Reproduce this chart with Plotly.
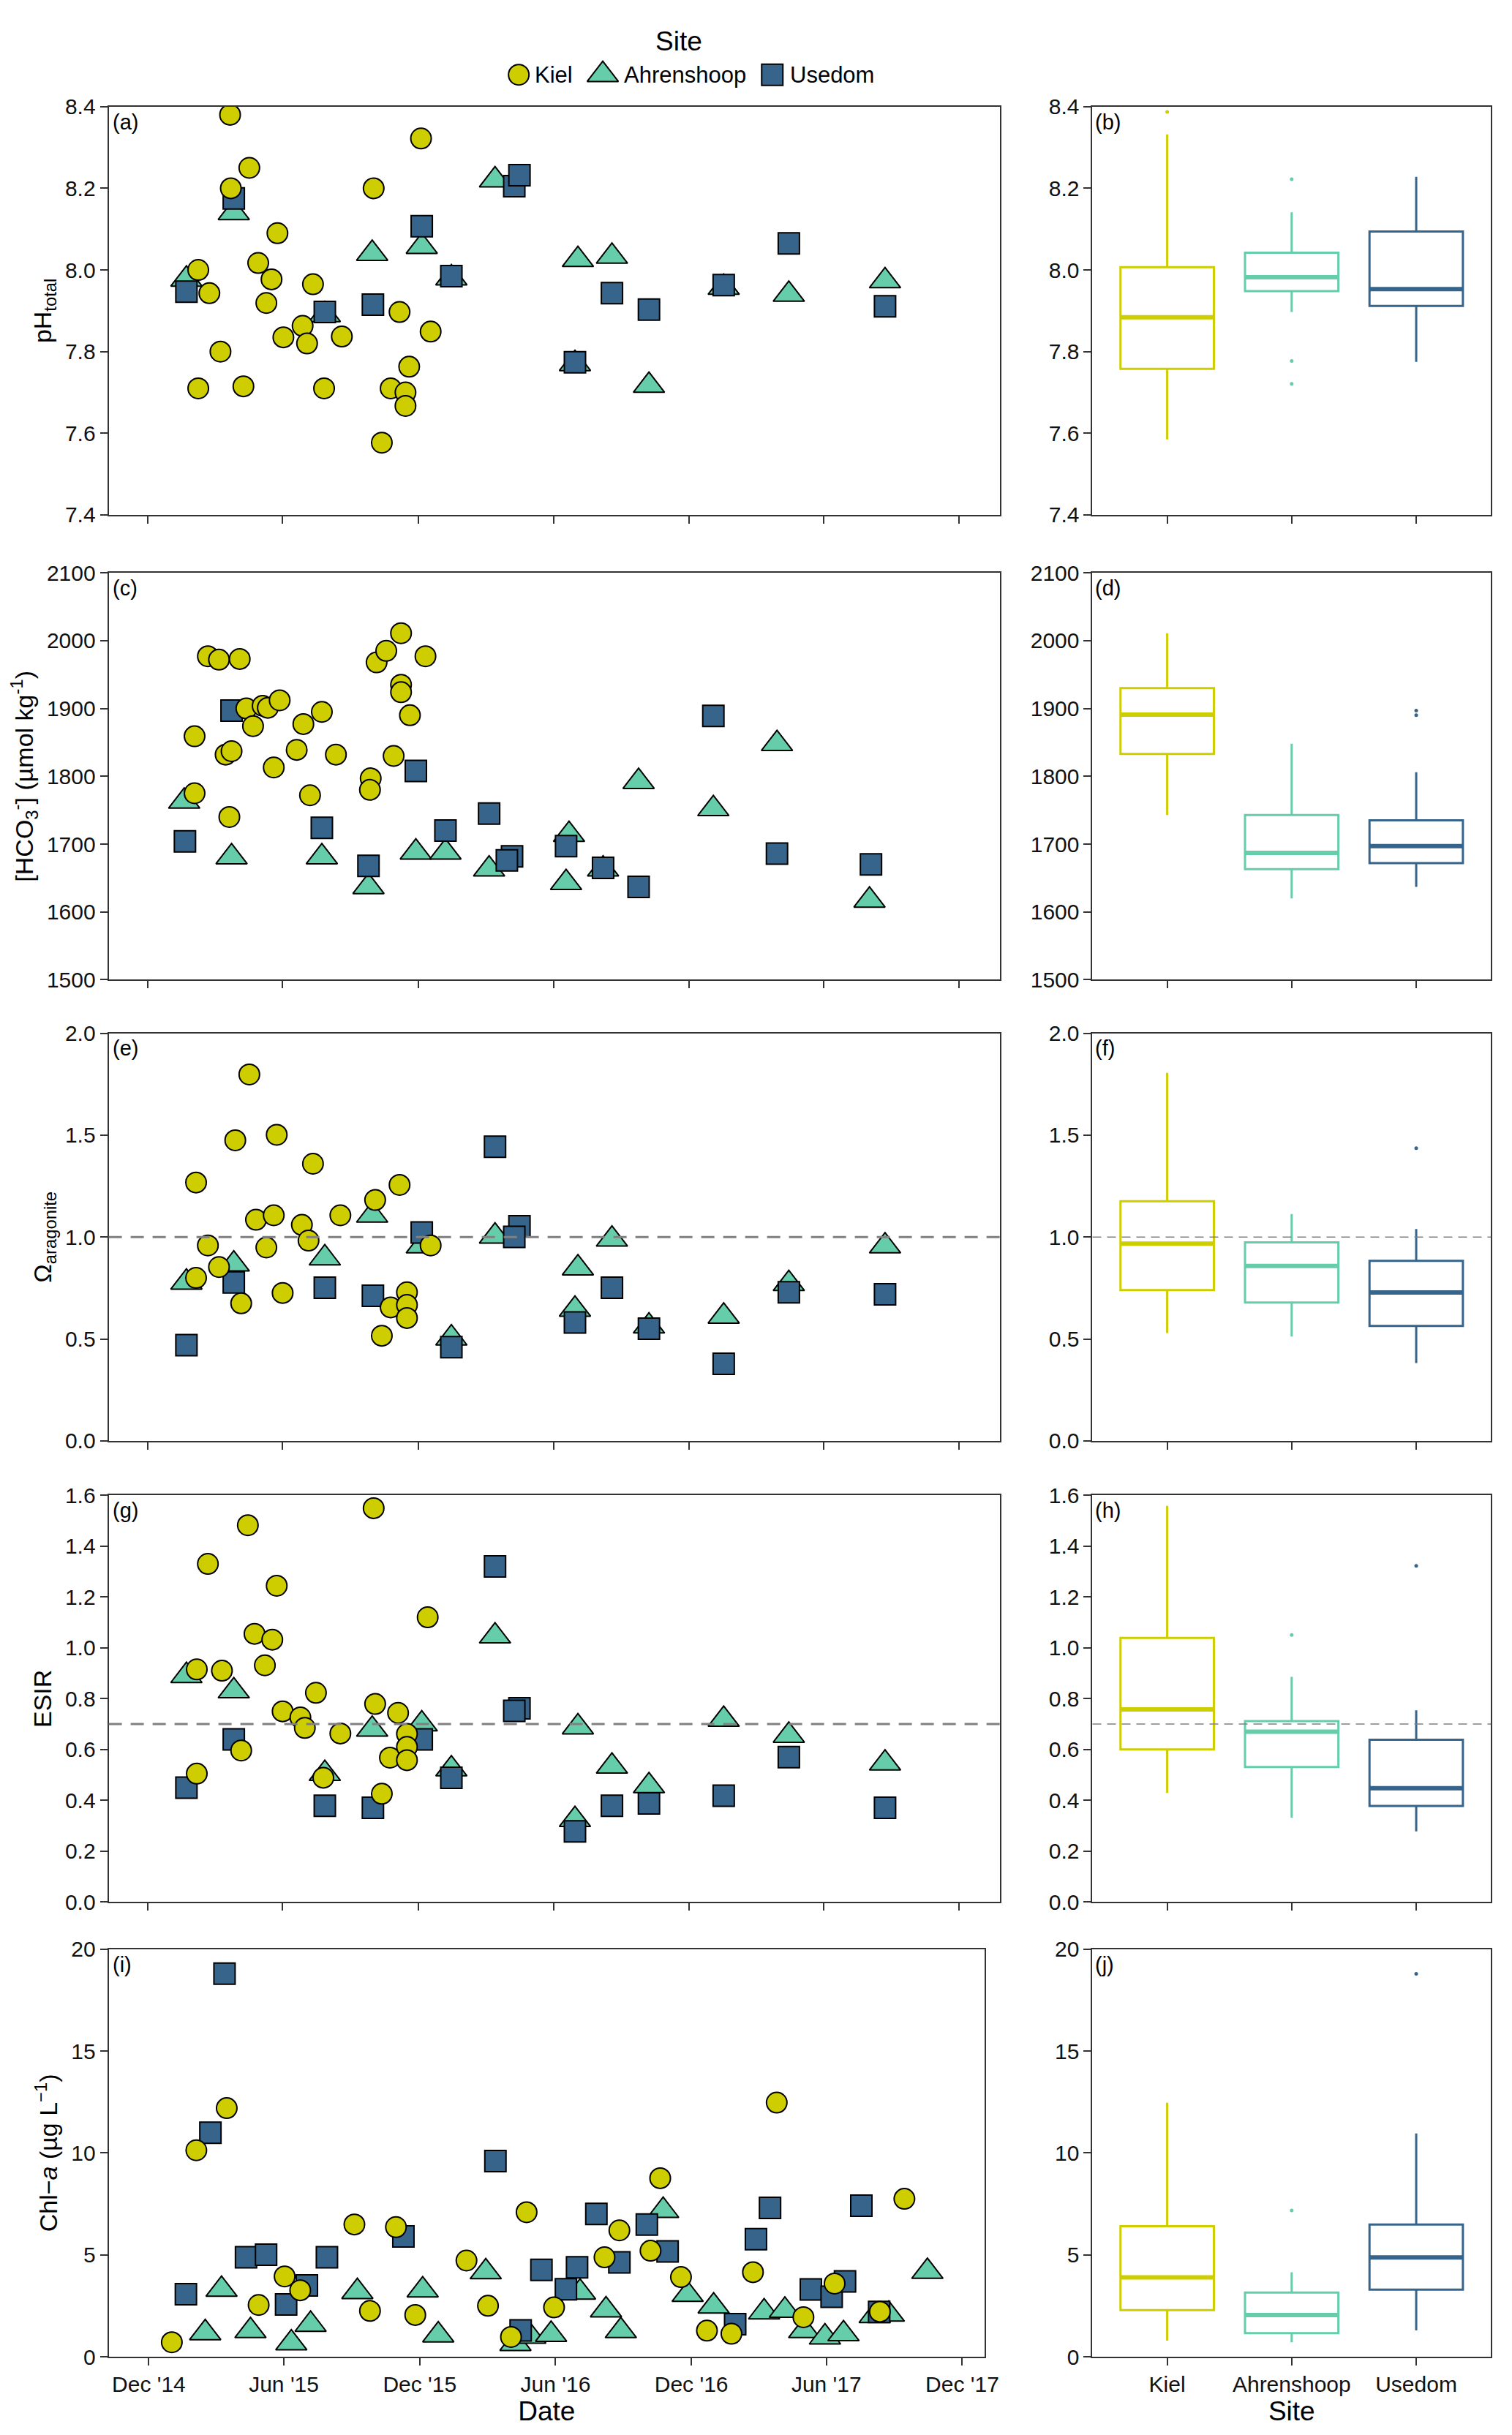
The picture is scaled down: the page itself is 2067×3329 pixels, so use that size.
import plotly.graph_objects as go
from plotly.subplots import make_subplots

SITES = ["Kiel", "Ahrenshoop", "Usedom"]
COLORS = {"Kiel": "#CDCD00", "Ahrenshoop": "#66CDAA", "Usedom": "#36648B"}
SYMBOLS = {"Kiel": "circle", "Ahrenshoop": "triangle-up", "Usedom": "square"}
SIZES = {"Kiel": 28, "Ahrenshoop": 37, "Usedom": 29}
DRAW_ORDER = ["Ahrenshoop", "Usedom", "Kiel"]

# ---- sampling dates shared by several panels ----
AHR_DATES = ["2015-01-22", "2015-03-27", "2015-07-28", "2015-09-30", "2015-12-06",
             "2016-01-15", "2016-03-14", "2016-06-30", "2016-07-04", "2016-08-19",
             "2016-10-08", "2017-01-17", "2017-04-15", "2017-08-23"]
USE_DATES_PH = ["2015-01-22", "2015-03-27", "2015-07-28", "2015-10-01", "2015-12-06",
                "2016-01-15", "2016-04-09", "2016-04-16", "2016-06-30", "2016-08-19",
                "2016-10-08", "2017-01-17", "2017-04-15", "2017-08-23"]
USE_DATES = ["2015-01-22", "2015-03-27", "2015-07-28", "2015-10-01", "2015-12-06",
             "2016-01-15", "2016-03-14", "2016-04-16", "2016-04-09", "2016-06-30",
             "2016-08-19", "2016-10-08", "2017-01-17", "2017-04-15", "2017-08-23"]

# ---- (a) pH total ----
PH_KIEL_DATES = ["2015-02-07", "2015-02-07", "2015-02-22", "2015-03-09", "2015-03-22",
                 "2015-03-23", "2015-04-09", "2015-04-17", "2015-04-29", "2015-05-10",
                 "2015-05-17", "2015-05-25", "2015-06-02", "2015-06-28", "2015-07-04",
                 "2015-07-12", "2015-07-27", "2015-08-20", "2015-10-02", "2015-10-13",
                 "2015-10-25", "2015-11-06", "2015-11-14", "2015-11-14", "2015-11-19",
                 "2015-12-05", "2015-12-18"]
PH_KIEL = [7.71, 8.00, 7.943, 7.80, 8.38, 8.20, 7.715, 8.25, 8.017, 7.919, 7.977, 8.09,
           7.835, 7.863, 7.82, 7.965, 7.71, 7.837, 8.20, 7.577, 7.71, 7.897, 7.70, 7.667,
           7.763, 8.322, 7.849]
PH_AHR = [7.977, 8.14, 7.89, 8.04, 8.057, 7.98, 8.22, 7.77, 8.025, 8.033, 7.717, 7.957,
          7.94, 7.973]
PH_USE = [7.947, 8.175, 7.897, 7.915, 8.107, 7.985, 8.205, 8.232, 7.774, 7.943, 7.903,
          7.963, 8.065, 7.911]

# ---- (c) bicarbonate ----
HCO3_KIEL_DATES = ["2015-02-02", "2015-02-02", "2015-02-20", "2015-03-07", "2015-03-16",
                   "2015-03-24", "2015-03-21", "2015-04-04", "2015-04-13", "2015-04-22",
                   "2015-05-05", "2015-05-12", "2015-05-20", "2015-05-28", "2015-06-20",
                   "2015-06-29", "2015-07-08", "2015-07-24", "2015-08-12", "2015-09-28",
                   "2015-09-27", "2015-10-06", "2015-10-19", "2015-10-29", "2015-11-08",
                   "2015-11-08", "2015-11-08", "2015-11-20", "2015-12-11"]
HCO3_KIEL = [1859, 1775, 1977, 1972, 1832, 1837, 1740, 1973, 1900, 1874, 1904, 1901, 1813,
             1912, 1839, 1877, 1772, 1895, 1832, 1797, 1780, 1968, 1985, 1830, 2011, 1935,
             1924, 1890, 1977]
HCO3_AHR_DATES = ["2015-01-19", "2015-03-24", "2015-07-24", "2015-09-25", "2015-11-28",
                  "2016-01-07", "2016-03-06", "2016-06-22", "2016-06-18", "2016-08-07",
                  "2016-09-24", "2017-01-03", "2017-03-30", "2017-08-02"]
HCO3_AHR = [1763, 1681, 1681, 1637, 1688, 1688, 1663, 1714, 1643, 1663, 1792, 1752, 1848, 1617]
HCO3_USE_DATES = ["2015-01-20", "2015-03-24", "2015-07-24", "2015-09-25", "2015-11-28",
                  "2016-01-07", "2016-03-06", "2016-04-06", "2016-03-30", "2016-06-18",
                  "2016-08-07", "2016-09-24", "2017-01-03", "2017-03-30", "2017-08-04"]
HCO3_USE = [1704, 1897, 1724, 1668, 1808, 1720, 1745, 1682, 1676, 1697, 1665, 1637, 1889,
            1686, 1670]

# ---- (e) omega aragonite ----
OMEGA_KIEL_DATES = ["2015-02-04", "2015-02-04", "2015-02-20", "2015-03-07", "2015-03-29",
                    "2015-04-06", "2015-04-17", "2015-04-26", "2015-05-10", "2015-05-20",
                    "2015-05-24", "2015-06-01", "2015-06-27", "2015-07-06", "2015-07-12",
                    "2015-08-18", "2015-10-04", "2015-10-13", "2015-10-25", "2015-11-06",
                    "2015-11-16", "2015-11-16", "2015-11-16", "2015-12-18"]
OMEGA_KIEL = [1.268, 0.80, 0.959, 0.853, 1.475, 0.675, 1.798, 1.085, 0.949, 1.107, 1.502,
              0.726, 1.06, 0.983, 1.36, 1.107, 1.182, 0.516, 0.655, 1.256, 0.729, 0.667,
              0.603, 0.959]
OMEGA_AHR = [0.778, 0.867, 0.897, 1.107, 0.956, 0.504, 1.004, 0.645, 0.848, 0.989, 0.563,
             0.611, 0.771, 0.956]
OMEGA_USE = [0.47, 0.778, 0.752, 0.712, 1.023, 0.46, 1.443, 1.053, 1.001, 0.581, 0.752,
             0.551, 0.378, 0.729, 0.719]

# ---- (g) ESIR ----
ESIR_KIEL_DATES = ["2015-02-05", "2015-02-05", "2015-02-20", "2015-03-11", "2015-04-06",
                   "2015-04-15", "2015-04-24", "2015-05-08", "2015-05-18", "2015-05-24",
                   "2015-06-01", "2015-06-25", "2015-07-01", "2015-07-16", "2015-07-26",
                   "2015-08-18", "2015-10-02", "2015-10-04", "2015-10-13", "2015-10-24",
                   "2015-11-04", "2015-11-16", "2015-11-16", "2015-11-16", "2015-12-14"]
ESIR_KIEL = [0.915, 0.505, 1.33, 0.91, 0.596, 1.482, 1.055, 0.931, 1.032, 1.244, 0.75,
             0.726, 0.685, 0.823, 0.489, 0.663, 1.549, 0.779, 0.426, 0.568, 0.744, 0.661,
             0.61, 0.558, 1.12]
ESIR_AHR = [0.89, 0.83, 0.505, 0.679, 0.70, 0.523, 1.046, 0.324, 0.688, 0.534, 0.457,
            0.718, 0.655, 0.546]
ESIR_USE = [0.45, 0.64, 0.379, 0.371, 0.64, 0.489, 1.32, 0.762, 0.752, 0.278, 0.379, 0.388,
            0.418, 0.57, 0.371]

# ---- (i) chlorophyll a ----
CHL_KIEL_DATES = ["2015-01-01", "2015-02-03", "2015-03-16", "2015-04-28", "2015-06-02",
                  "2015-06-23", "2015-09-04", "2015-09-25", "2015-10-30", "2015-11-25",
                  "2016-02-02", "2016-03-02", "2016-04-02", "2016-04-23", "2016-05-30",
                  "2016-08-06", "2016-08-26", "2016-10-07", "2016-10-20", "2016-11-17",
                  "2016-12-22", "2017-01-24", "2017-02-22", "2017-03-26", "2017-05-01",
                  "2017-06-12", "2017-08-12", "2017-09-14"]
CHL_KIEL = [0.71, 10.13, 12.2, 2.54, 3.94, 3.26, 6.49, 2.25, 6.36, 2.05, 4.72, 2.5, 0.97,
            7.09, 2.42, 4.88, 6.2, 5.2, 8.76, 3.91, 1.28, 1.13, 4.15, 12.47, 1.94, 3.59,
            2.21, 7.75]
CHL_AHR_DATES = ["2015-02-15", "2015-03-09", "2015-04-17", "2015-06-11", "2015-07-07",
                 "2015-09-08", "2015-12-05", "2015-12-26", "2016-02-28", "2016-04-08",
                 "2016-04-28", "2016-05-26", "2016-07-04", "2016-08-08", "2016-08-28",
                 "2016-10-24", "2016-11-26", "2016-12-31", "2017-03-09", "2017-04-06",
                 "2017-05-02", "2017-05-30", "2017-06-24", "2017-08-05", "2017-08-24",
                 "2017-10-15"]
CHL_AHR = [1.17, 3.3, 1.27, 0.67, 1.58, 3.19, 3.27, 1.06, 4.16, 0.64, 1.0, 1.09, 3.16, 2.29,
           1.27, 7.17, 3.05, 2.48, 2.19, 2.27, 1.27, 0.96, 1.12, 2.01, 2.08, 4.18]
CHL_USE_DATES = ["2015-01-20", "2015-02-22", "2015-03-13", "2015-04-11", "2015-05-08",
                 "2015-06-04", "2015-07-02", "2015-07-29", "2015-11-09", "2016-03-12",
                 "2016-04-15", "2016-05-13", "2016-06-15", "2016-06-30", "2016-07-26",
                 "2016-08-26", "2016-10-02", "2016-10-30", "2017-01-29", "2017-02-26",
                 "2017-03-17", "2017-05-11", "2017-06-08", "2017-06-26", "2017-07-18",
                 "2017-08-11"]
CHL_USE = [3.07, 10.99, 18.8, 4.88, 5.01, 2.57, 3.5, 4.88, 5.9, 9.6, 1.29, 4.26, 3.31, 4.39,
           7.01, 4.63, 6.49, 5.17, 1.6, 5.77, 7.3, 3.3, 2.94, 3.7, 7.41, 2.2]

# ---- box plot statistics (Kiel, Ahrenshoop, Usedom) ----
PH_BOX = dict(low=[7.585, 7.897, 7.775], q1=[7.758, 7.948, 7.912], med=[7.884, 7.982, 7.953],
              q3=[8.007, 8.042, 8.094], up=[8.332, 8.141, 8.228])
PH_OUT_SITE = ["Kiel", "Ahrenshoop", "Ahrenshoop", "Ahrenshoop"]
PH_OUT = [8.387, 8.222, 7.777, 7.721]

HCO3_BOX = dict(low=[1743, 1620, 1637], q1=[1833, 1663, 1672], med=[1891, 1687, 1697],
                q3=[1930, 1743, 1735], up=[2011, 1848, 1806])
HCO3_OUT_SITE = ["Usedom", "Usedom"]
HCO3_OUT = [1897, 1890]

OMEGA_BOX = dict(low=[0.529, 0.512, 0.382], q1=[0.740, 0.679, 0.564], med=[0.968, 0.858, 0.728],
                 q3=[1.176, 0.974, 0.884], up=[1.806, 1.113, 1.040])
OMEGA_OUT_SITE = ["Usedom"]
OMEGA_OUT = [1.436]

ESIR_BOX = dict(low=[0.429, 0.332, 0.278], q1=[0.600, 0.531, 0.378], med=[0.758, 0.670, 0.448],
                q3=[1.039, 0.712, 0.638], up=[1.558, 0.886, 0.754])
ESIR_OUT_SITE = ["Ahrenshoop", "Usedom"]
ESIR_OUT = [1.050, 1.322]

CHL_BOX = dict(low=[0.79, 0.71, 1.29], q1=[2.29, 1.16, 3.29], med=[3.89, 2.05, 4.87],
               q3=[6.41, 3.15, 6.49], up=[12.46, 4.15, 10.96])
CHL_OUT_SITE = ["Ahrenshoop", "Usedom"]
CHL_OUT = [7.18, 18.79]

DATE_TICKS = ["2014-12-01", "2015-06-01", "2015-12-01", "2016-06-01", "2016-12-01",
              "2017-06-01", "2017-12-01"]

PANELS = [
    dict(labels=("(a)", "(b)"), title="pH<sub>total</sub>", yrange=[7.4, 8.4], dtick=0.2,
         fmt=".1f", hline=None, xrange=["2014-10-09", "2018-01-25"],
         series={"Kiel": (PH_KIEL_DATES, PH_KIEL), "Ahrenshoop": (AHR_DATES, PH_AHR),
                 "Usedom": (USE_DATES_PH, PH_USE)},
         box=PH_BOX, out=(PH_OUT_SITE, PH_OUT)),
    dict(labels=("(c)", "(d)"),
         title="[HCO<sub>3</sub><sup>-</sup>] (µmol kg<sup>-1</sup>)",
         yrange=[1500, 2100], dtick=100, fmt="d", hline=None,
         xrange=["2014-10-09", "2018-01-25"],
         series={"Kiel": (HCO3_KIEL_DATES, HCO3_KIEL), "Ahrenshoop": (HCO3_AHR_DATES, HCO3_AHR),
                 "Usedom": (HCO3_USE_DATES, HCO3_USE)},
         box=HCO3_BOX, out=(HCO3_OUT_SITE, HCO3_OUT)),
    dict(labels=("(e)", "(f)"), title="Ω<sub>aragonite</sub>", yrange=[0, 2.0], dtick=0.5,
         fmt=".1f", hline=1.0, xrange=["2014-10-09", "2018-01-25"],
         series={"Kiel": (OMEGA_KIEL_DATES, OMEGA_KIEL), "Ahrenshoop": (AHR_DATES, OMEGA_AHR),
                 "Usedom": (USE_DATES, OMEGA_USE)},
         box=OMEGA_BOX, out=(OMEGA_OUT_SITE, OMEGA_OUT)),
    dict(labels=("(g)", "(h)"), title="ESIR", yrange=[0, 1.6], dtick=0.2, fmt=".1f",
         hline=0.7, xrange=["2014-10-09", "2018-01-25"],
         series={"Kiel": (ESIR_KIEL_DATES, ESIR_KIEL), "Ahrenshoop": (AHR_DATES, ESIR_AHR),
                 "Usedom": (USE_DATES, ESIR_USE)},
         box=ESIR_BOX, out=(ESIR_OUT_SITE, ESIR_OUT)),
    dict(labels=("(i)", "(j)"), title="Chl−<i>a</i> (µg L<sup>−1</sup>)", yrange=[0, 20],
         dtick=5, fmt="d", hline=None, xrange=["2014-10-08", "2017-12-31"],
         series={"Kiel": (CHL_KIEL_DATES, CHL_KIEL), "Ahrenshoop": (CHL_AHR_DATES, CHL_AHR),
                 "Usedom": (CHL_USE_DATES, CHL_USE)},
         box=CHL_BOX, out=(CHL_OUT_SITE, CHL_OUT)),
]

# ---- layout (pixel positions in a 2067 x 3329 page) ----
W, H = 2067, 3329
ROW_TOP = [122, 766, 1402, 2040, 2667]
ROW_BOTTOM = [686, 1328, 1965, 2602, 3230]
LEFT_X = [142, 1372]
LEFT_X_LAST = [142, 1351]
RIGHT_X = [1500, 2050]
BOX_WIDTH = 0.75
LEGEND_H = 112
LEGEND_KEY_X = [708, 824, 1058]
LEGEND_TEXT_X = [728, 851, 1080]
LEGEND_ROW_Y = 78

FONT = "Arial, Liberation Sans, sans-serif"
AXIS_COLOR = "#333333"
REF_COLOR = "#808080"

fig = make_subplots(rows=5, cols=2)

for r, panel in enumerate(PANELS, start=1):
    # time series
    for site in DRAW_ORDER:
        dates, vals = panel["series"][site]
        fig.add_trace(go.Scatter(
            x=dates, y=vals, mode="markers", name=site, showlegend=False,
            marker=dict(symbol=SYMBOLS[site], size=SIZES[site], color=COLORS[site],
                        line=dict(color="black", width=2)),
        ), row=r, col=1)

    # box plots
    box = panel["box"]
    for i, site in enumerate(SITES):
        fig.add_trace(go.Box(
            x=[i], q1=[box["q1"][i]], median=[box["med"][i]], q3=[box["q3"][i]],
            lowerfence=[box["low"][i]], upperfence=[box["up"][i]],
            width=BOX_WIDTH, whiskerwidth=0, boxpoints=False, fillcolor="white",
            line=dict(color=COLORS[site], width=3), showlegend=False, name=site,
        ), row=r, col=2)
        # thicker median bar, as in ggplot
        fig.add_trace(go.Scatter(
            x=[i - BOX_WIDTH / 2, i + BOX_WIDTH / 2], y=[box["med"][i], box["med"][i]],
            mode="lines", line=dict(color=COLORS[site], width=6), showlegend=False,
            hoverinfo="skip",
        ), row=r, col=2)
    out_sites, out_vals = panel["out"]
    fig.add_trace(go.Scatter(
        x=[SITES.index(s) for s in out_sites], y=out_vals, mode="markers",
        marker=dict(size=5, color=[COLORS[s] for s in out_sites]), showlegend=False,
    ), row=r, col=2)

    y0 = 1 - ROW_BOTTOM[r - 1] / H
    y1 = 1 - ROW_TOP[r - 1] / H
    lx = LEFT_X_LAST if r == 5 else LEFT_X
    common = dict(showline=True, mirror=True, linecolor=AXIS_COLOR, linewidth=2,
                  ticks="outside", ticklen=10, tickwidth=2, tickcolor=AXIS_COLOR,
                  showgrid=False, zeroline=False,
                  tickfont=dict(family=FONT, size=30, color="#111111"))

    fig.update_xaxes(domain=[lx[0] / W, lx[1] / W], range=panel["xrange"], type="date",
                     tickvals=DATE_TICKS, tickformat="%b '%y", showticklabels=(r == 5),
                     **common, row=r, col=1)
    fig.update_xaxes(domain=[RIGHT_X[0] / W, RIGHT_X[1] / W], range=[-0.6, 2.6],
                     tickvals=[0, 1, 2], ticktext=SITES, showticklabels=(r == 5),
                     **common, row=r, col=2)
    for c in (1, 2):
        fig.update_yaxes(domain=[y0, y1], range=panel["yrange"], dtick=panel["dtick"],
                         tick0=panel["yrange"][0], tickformat=panel["fmt"], **common,
                         row=r, col=c)
    fig.update_yaxes(title=dict(text=panel["title"], standoff=8,
                                font=dict(family=FONT, size=34, color="black")),
                     row=r, col=1)

    # reference lines
    if panel["hline"] is not None:
        fig.add_hline(y=panel["hline"],
                      line=dict(color=REF_COLOR, width=3, dash="18px,12px"),
                      layer="above", row=r, col=1)
        fig.add_hline(y=panel["hline"],
                      line=dict(color=REF_COLOR, width=1.5, dash="12px,8px"),
                      layer="above", row=r, col=2)

    # panel letters
    for c, lab in zip((1, 2), panel["labels"]):
        n = 2 * (r - 1) + c
        suffix = "" if n == 1 else str(n)
        fig.add_annotation(x=0.003, y=0.995, xref="x%s domain" % suffix,
                           yref="y%s domain" % suffix, text=lab, showarrow=False,
                           xanchor="left", yanchor="top",
                           font=dict(family=FONT, size=29, color="black"))

fig.update_xaxes(title=dict(text="Date", font=dict(family=FONT, size=37, color="black"),
                            standoff=4), row=5, col=1)
fig.update_xaxes(title=dict(text="Site", font=dict(family=FONT, size=37, color="black"),
                            standoff=4), row=5, col=2)

# ---- legend drawn on its own hidden axis so the keys keep full marker size ----
for i, site in enumerate(SITES):
    fig.add_trace(go.Scatter(
        x=[LEGEND_KEY_X[i]], y=[LEGEND_ROW_Y], xaxis="x11", yaxis="y11", mode="markers",
        marker=dict(symbol=SYMBOLS[site], size=SIZES[site], color=COLORS[site],
                    line=dict(color="black", width=2)),
        showlegend=False, hoverinfo="skip",
    ))
    fig.add_annotation(x=LEGEND_TEXT_X[i], y=LEGEND_ROW_Y, xref="x11", yref="y11",
                       text=site, showarrow=False, xanchor="left", yanchor="middle",
                       font=dict(family=FONT, size=31, color="black"))
fig.add_annotation(x=0.4495, y=1 - 32 / H, xref="paper", yref="paper", text="Site",
                   showarrow=False, xanchor="center", yanchor="middle",
                   font=dict(family=FONT, size=37, color="black"))

fig.update_layout(
    width=W, height=H,
    margin=dict(l=0, r=0, t=0, b=0),
    paper_bgcolor="white", plot_bgcolor="white",
    boxmode="overlay", showlegend=False,
    font=dict(family=FONT, color="black"),
    xaxis11=dict(domain=[0, 1], range=[0, W], visible=False, fixedrange=True,
                 anchor="y11"),
    yaxis11=dict(domain=[1 - LEGEND_H / H, 1], range=[LEGEND_H, 0], visible=False,
                 fixedrange=True, anchor="x11"),
)

fig.write_html("out.html")
